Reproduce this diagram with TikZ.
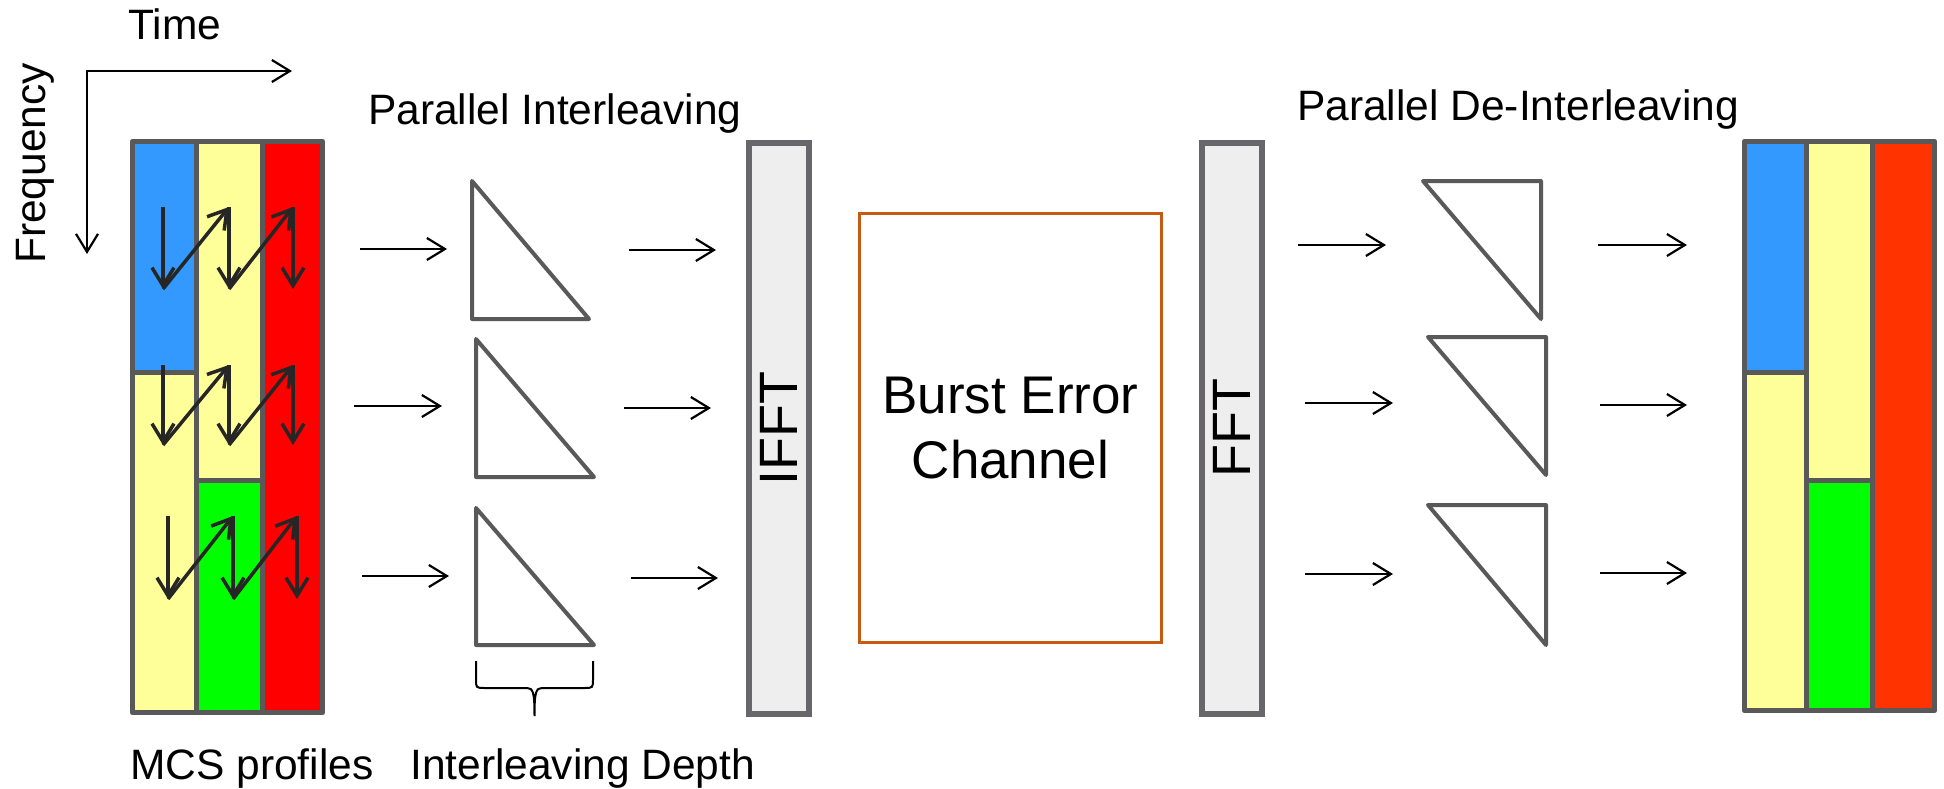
\documentclass[tikz,border=0pt]{standalone}
\usepackage{fontspec}
\setmainfont{Liberation Sans}
\usetikzlibrary{arrows.meta}
\definecolor{bord}{HTML}{595959}
\definecolor{boxb}{HTML}{67676B}
\definecolor{boxf}{HTML}{EEEEEE}
\definecolor{chanc}{HTML}{C55A11}
\definecolor{cblue}{HTML}{3399FF}
\definecolor{cyel}{HTML}{FFFF99}
\definecolor{cred}{HTML}{FF0000}
\definecolor{cred2}{HTML}{FF3300}
\definecolor{cgreen}{HTML}{00FF00}
\definecolor{zz}{HTML}{262626}
\tikzset{
  flow/.style={-{Straight Barb[length=18pt,width=22pt]}, line width=2.2pt, black},
  zig/.style={-{Straight Barb[length=18pt,width=22pt]}, line width=3.5pt, draw=zz},
  cellsep/.style={draw=bord, line width=5pt},
  blockbox/.style={draw=bord, line width=5.5pt, minimum width=190pt, inner sep=0pt},
  tri/.style={draw=bord, line width=4pt, line join=round},
  fftbox/.style={draw=boxb, fill=boxf, line width=6pt, rotate=90, minimum width=571pt, minimum height=60pt, inner sep=0pt, font=\fontsize{54}{60}\selectfont},
  lbl/.style={font=\fontsize{42.5}{50}\selectfont, inner sep=0pt},
  brace/.style={line width=2pt, black}
}
\begin{document}
\begin{tikzpicture}[x=1pt,y=-1pt]
\useasboundingbox (0,0) rectangle (1944,789);

% ---------- axes ----------
\coordinate (ax) at (87,71);
\coordinate (tEnd) at (292,71);
\coordinate (fEnd) at (87,254);
\draw[line width=2.2pt, {Straight Barb[length=18pt,width=22pt]}-{Straight Barb[length=18pt,width=22pt]}] (tEnd) -- (ax) -- (fEnd);
\node[lbl, anchor=base west] (time) at (128,40) {Time};
\node[lbl, anchor=base west, rotate=90] (freq) at (45,264) {Frequency};

% ---------- left MCS block ----------
\fill[cblue]  (132.5,141.5) rectangle (196.5,372);
\fill[cyel]   (132.5,372)   rectangle (196.5,712.5);
\fill[cyel]   (196.5,141.5) rectangle (262.5,480);
\fill[cgreen] (196.5,480)   rectangle (262.5,712.5);
\fill[cred]   (262.5,141.5) rectangle (322.5,712.5);
\draw[cellsep] (196.5,141.5) -- (196.5,712.5);
\draw[cellsep] (262.5,141.5) -- (262.5,712.5);
\draw[cellsep] (132.5,372) -- (196.5,372);
\draw[cellsep] (196.5,480) -- (262.5,480);
\node[blockbox, minimum height=571pt, line join=round] (mcsL) at (227.5,427) {};

% zigzag arrows
\foreach \r/\xa/\xb/\xc/\yt/\yb in {1/163/229/293/207/289, 2/163/229/293/365/445, 3/168/233/297/516/599}{
  \coordinate (z\r a) at (\xa,\yt);
  \coordinate (z\r A) at (\xa,\yb);
  \coordinate (z\r b) at (\xb,\yt);
  \coordinate (z\r B) at (\xb,\yb);
  \coordinate (z\r c) at (\xc,\yt);
  \coordinate (z\r C) at (\xc,\yb);
  \draw[zig] (z\r a) -- (z\r A);
  \draw[zig] (z\r A) -- (z\r b);
  \draw[zig] (z\r b) -- (z\r B);
  \draw[zig] (z\r B) -- (z\r c);
  \draw[zig] (z\r c) -- (z\r C);
}

\node[lbl, anchor=base west] (mcs) at (130,779) {MCS profiles};

% ---------- interleavers ----------
\node[lbl, anchor=base west] (pil) at (368,125) {Parallel Interleaving};
\draw[tri] (472,181) -- (472,319) -- (589,319) -- cycle;
\draw[tri] (476,339) -- (476,477) -- (594,477) -- cycle;
\draw[tri] (476,508) -- (476,645) -- (594,645) -- cycle;

\coordinate (la1) at (360,249); \coordinate (lb1) at (447,249);
\coordinate (la2) at (354,406); \coordinate (lb2) at (442,406);
\coordinate (la3) at (362,576); \coordinate (lb3) at (449,576);
\coordinate (lc1) at (629,250); \coordinate (ld1) at (716,250);
\coordinate (lc2) at (624,408); \coordinate (ld2) at (711,408);
\coordinate (lc3) at (631,578); \coordinate (ld3) at (718,578);
\foreach \i in {1,2,3}{
  \draw[flow] (la\i) -- (lb\i);
  \draw[flow] (lc\i) -- (ld\i);
}

% brace
\draw[brace] (476,661) -- (476,679) .. controls (476,688) .. (485,688) -- (527,688)
   .. controls (533,688) and (534.5,692) .. (534.5,716)
   .. controls (534.5,692) and (536,688) .. (542,688) -- (584,688)
   .. controls (593,688) .. (593,679) -- (593,661);
\node[lbl, anchor=base west] (depth) at (410,779) {Interleaving Depth};

% ---------- IFFT / channel / FFT ----------
\node[fftbox] (ifft) at (779,428.5) {IFFT};
\node[draw=chanc, line width=3.5pt, minimum width=302pt, minimum height=429pt, align=center,
      font=\fontsize{53}{65}\selectfont] (chan) at (1010.5,428) {Burst Error\\Channel};
\node[fftbox] (fft) at (1232,428.5) {FFT};

% ---------- de-interleavers ----------
\node[lbl, anchor=base west] (pdil) at (1297,121) {Parallel De-Interleaving};
\draw[tri] (1423,181) -- (1541,181) -- (1541,319) -- cycle;
\draw[tri] (1428,337) -- (1546,337) -- (1546,475) -- cycle;
\draw[tri] (1428,505) -- (1546,505) -- (1546,645) -- cycle;

\coordinate (ra1) at (1298,245); \coordinate (rb1) at (1386,245);
\coordinate (ra2) at (1305,403); \coordinate (rb2) at (1393,403);
\coordinate (ra3) at (1305,574); \coordinate (rb3) at (1393,574);
\coordinate (rc1) at (1598,245); \coordinate (rd1) at (1687,245);
\coordinate (rc2) at (1600,405); \coordinate (rd2) at (1687,405);
\coordinate (rc3) at (1600,573); \coordinate (rd3) at (1687,573);
\foreach \i in {1,2,3}{
  \draw[flow] (ra\i) -- (rb\i);
  \draw[flow] (rc\i) -- (rd\i);
}

% ---------- right block ----------
\fill[cblue]  (1744.5,141.5) rectangle (1806.5,372);
\fill[cyel]   (1744.5,372)   rectangle (1806.5,710.5);
\fill[cyel]   (1806.5,141.5) rectangle (1872.5,480);
\fill[cgreen] (1806.5,480)   rectangle (1872.5,710.5);
\fill[cred2]  (1872.5,141.5) rectangle (1934.5,710.5);
\draw[cellsep] (1806.5,141.5) -- (1806.5,710.5);
\draw[cellsep] (1872.5,141.5) -- (1872.5,710.5);
\draw[cellsep] (1744.5,372) -- (1806.5,372);
\draw[cellsep] (1806.5,480) -- (1872.5,480);
\node[blockbox, minimum height=569pt, line join=round] (mcsR) at (1839.5,426) {};
\end{tikzpicture}
\end{document}
